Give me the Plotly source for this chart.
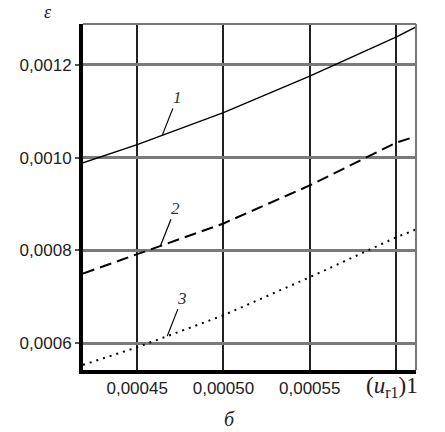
import plotly.graph_objects as go
import numpy as np

# x values: (u_r1)_1
x_vals = [0.0004186, 0.00045, 0.0005, 0.00055, 0.0006, 0.0006116]

# strain epsilon for the three curves
eps_1 = [0.000989, 0.001028, 0.001097, 0.001176, 0.00126, 0.001282]
eps_2 = [0.00075, 0.000791, 0.000858, 0.00094, 0.001032, 0.001046]
eps_3 = [0.000553, 0.000591, 0.00066, 0.000742, 0.000828, 0.000845]

x_ticks = [0.00045, 0.0005, 0.00055, 0.0006]
x_ticktext = ["0,00045", "0,00050", "0,00055", " "]
y_ticks = [0.0006, 0.0008, 0.0010, 0.0012]
y_ticktext = ["0,0006", "0,0008", "0,0010", "0,0012"]

curve_labels = ["1", "2", "3"]
label_x = [0.0004645, 0.0004634, 0.0004674]

SERIF = "Times New Roman, Liberation Serif, serif"
SANS = "Arial, Liberation Sans, sans-serif"

fig = go.Figure()
styles = [dict(color='black', width=1.4),
          dict(color='black', width=2, dash='12px,6px'),
          dict(color='black', width=2, dash='2px,5px')]
for ys, st in zip([eps_1, eps_2, eps_3], styles):
    fig.add_trace(go.Scatter(x=x_vals, y=ys, mode='lines', line=st,
                             showlegend=False, hoverinfo='skip'))

# curve numbers with leader lines
for lab, lx, ys in zip(curve_labels, label_x, [eps_1, eps_2, eps_3]):
    fig.add_annotation(x=lx, y=float(np.interp(lx, x_vals, ys)), text=f"<i>{lab}</i>",
                       showarrow=True, arrowhead=0, arrowwidth=1.2, arrowcolor='black',
                       ax=15, ay=-38, standoff=0,
                       font=dict(family=SERIF, size=17, color='#333'))

# border on top / right (thin grey)
fig.add_shape(type='line', xref='paper', yref='paper', x0=0, x1=1, y0=1, y1=1,
              line=dict(color='#777', width=2))
fig.add_shape(type='line', xref='paper', yref='paper', x0=1, x1=1, y0=0, y1=1,
              line=dict(color='#777', width=2))

txt = dict(showarrow=False, xref='paper', yref='paper', xanchor='center', yanchor='middle')
fig.add_annotation(x=-0.105, y=1.035, text="<i>ε</i>",
                   font=dict(family=SERIF, size=18, color='#222'), **txt)
fig.add_annotation(x=0.928, y=-0.05, text="(<i>u</i><sub>r1</sub>)1",
                   font=dict(family=SERIF, size=23, color='#222'), **txt)
fig.add_annotation(x=0.441, y=-0.143, text="<i>б</i>",
                   font=dict(family=SERIF, size=20, color='#222'), **txt)

fig.update_layout(
    width=445, height=432,
    margin=dict(l=83, r=29, t=24, b=62),
    paper_bgcolor='white', plot_bgcolor='white',
    font=dict(family=SANS, size=17, color='#222'),
    xaxis=dict(range=[0.0004186, 0.0006116], tickvals=x_ticks, ticktext=x_ticktext,
               showgrid=True, gridcolor='#222', gridwidth=2,
               showline=True, linecolor='black', linewidth=4,
               ticks='', zeroline=False),
    yaxis=dict(range=[0.000542, 0.0012882], tickvals=y_ticks, ticktext=y_ticktext,
               showgrid=True, gridcolor='#7a7a7a', gridwidth=3,
               showline=True, linecolor='black', linewidth=4,
               ticks='outside', ticklen=4, tickcolor='#555', tickwidth=1.5,
               zeroline=False),
)

# drop the default 8px page margin so the figure sits at the window corner
fig.write_html("out.html", config={'displayModeBar': False},
               post_script="document.body.style.margin='0';")
